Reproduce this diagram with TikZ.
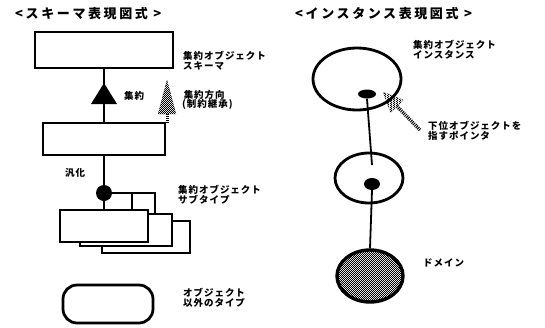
\documentclass[tikz,border=0pt]{standalone}
\usepackage{fontspec}
\usetikzlibrary{patterns,patterns.meta,shapes.geometric}
\newfontfamily\jpttl[LetterSpace=20]{Noto Sans CJK JP}
\newfontfamily\jplab[LetterSpace=10]{Noto Sans CJK JP}
\pgfdeclarepattern{name=chk,type=uncolored,bottom left={\pgfpoint{0pt}{0pt}},top right={\pgfpoint{2.4pt}{2.4pt}},tile size={\pgfpoint{2.4pt}{2.4pt}},code={\pgfpathrectangle{\pgfpoint{0pt}{0pt}}{\pgfpoint{1.2pt}{1.2pt}}\pgfpathrectangle{\pgfpoint{1.2pt}{1.2pt}}{\pgfpoint{1.2pt}{1.2pt}}\pgfusepath{fill}}}
\begin{document}
\begin{tikzpicture}[x=1pt,y=-1pt,
  box/.style={draw,line width=2.3pt,fill=white,rectangle,inner sep=0pt},
  conn/.style={line width=1.8pt},
  ring/.style={draw,ellipse,line width=2.8pt,inner sep=0pt},
  dotnode/.style={fill,ellipse,inner sep=0pt},
  lab/.style={anchor=north west,inner sep=0pt,align=left,font=\jplab\bfseries\fontsize{9.5}{9.5}\selectfont},
  ttl/.style={anchor=west,inner sep=0pt,font=\jpttl\bfseries\fontsize{13}{14}\selectfont},
  chkfill/.style={pattern=chk,pattern color=black},
]
\useasboundingbox (0,0) rectangle (545,327);

% ---------- left panel ----------
\node[ttl] (t1) at (15,14) {<スキーマ表現図式 >};

\node[box,minimum width=138pt,minimum height=36pt] (schema) at (104,50) {};
\node[box,minimum width=122pt,minimum height=32pt] (super) at (104,139) {};
\draw[conn] (schema.south) -- (super.north);
\coordinate (aggtip) at (104,83);
\fill (aggtip) -- (117,104) -- (91,104) -- cycle;

% aggregation direction arrow
\coordinate (treetip) at (167,80);
\fill[chkfill] (treetip) -- (176,114) -- (158,114) -- cycle;
\draw[densely dotted,line width=0.4pt] (treetip) -- (176,114) -- (158,114) -- cycle;
\draw[line width=3pt,dash pattern=on 1pt off 1pt] (167,114) -- (167,123);

% subtypes
\node[box,minimum width=88pt,minimum height=32pt] (b3) at (146,237) {};
\node[box,minimum width=92pt,minimum height=32pt] (b2) at (126,230) {};
\node[box,minimum width=88pt,minimum height=32pt] (b1) at (104,226) {};
\node[circle,fill,minimum size=16pt,inner sep=0pt] (gen) at (104,193) {};
\draw[conn] (super.south) -- (gen);
\draw[conn] (gen) -- (b1.north);
\coordinate (j1) at (132,193);
\coordinate (j2) at (155,193);
\draw[conn] (gen) -- (j2) -- (j2 |- b2.north);
\draw[conn] (j1) -- (j1 |- b1.north);

% non-object type
\node[draw,line width=2.8pt,rectangle,rounded corners=14pt,minimum width=90pt,minimum height=38pt] (other) at (108,304) {};

% labels
\node[lab] (l1) at (183,51) {集約オブジェクト\\スキーマ};
\node[lab,anchor=west] (l2) at (124,96) {集約};
\node[lab] (l3) at (182,90) {\,集約方向\\(制約継承)};
\node[lab,anchor=west] (l4) at (65,173) {汎化};
\node[lab] (l5) at (178,185) {集約オブジェクト\\サブタイプ};
\node[lab] (l6) at (183,288) {オブジェクト\\以外のタイプ};

% ---------- right panel ----------
\node[ttl] (t2) at (295,14) {<インスタンス表現図式 >};

\node[ring,minimum width=88pt,minimum height=62pt] (inst) at (357,79) {};
\node[dotnode,minimum width=18pt,minimum height=9pt] (p1) at (367,94) {};
\node[ring,minimum width=68pt,minimum height=50pt] (inst2) at (369,178) {};
\node[dotnode,minimum width=16pt,minimum height=12pt] (p2) at (372,184) {};
\node[draw,ellipse,line width=3.4pt,minimum width=66pt,minimum height=52pt,chkfill,inner sep=0pt] (dom) at (370,276) {};

\coordinate (e1) at (372,165);
\draw[conn] (p1.south) -- (e1);
\draw[conn] (p2.south) -- (dom.north);

% pointer arrow
\coordinate (ptip) at (383,92);
\coordinate (ptail) at (420,130);
\fill[chkfill] (ptip) -- (403.4,100) -- (390.6,112.6) -- cycle;
\draw[densely dotted,line width=0.4pt] (ptip) -- (403.4,100) -- (390.6,112.6) -- cycle;
\draw[line width=3.5pt,dash pattern=on 1pt off 1pt] (397,106.3) -- (ptail);

\node[lab] (r1) at (413,40) {集約オブジェクト\\インスタンス};
\node[lab] (r2) at (428,121) {下位オブジェクトを\\指すポインタ};
\node[lab,anchor=west] (r3) at (423,263) {ドメイン};
\end{tikzpicture}
\end{document}
